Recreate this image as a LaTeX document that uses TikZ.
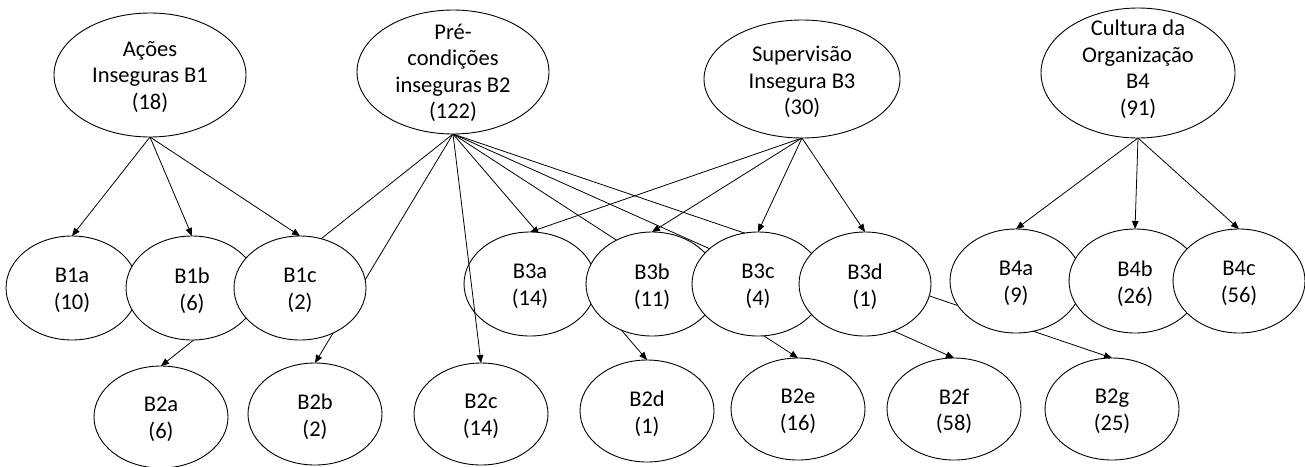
\documentclass[tikz,border=0pt]{standalone}
\usepackage{fontspec}
\setmainfont{Carlito}
\usetikzlibrary{shapes.geometric,arrows.meta}
\pgfdeclarelayer{bg}
\pgfsetlayers{bg,main}
\begin{document}
\begin{tikzpicture}[x=1pt,y=-1pt,
  ell/.style={ellipse, draw=black, fill=white, line width=0.9pt, inner sep=0pt, outer sep=0pt},
  topell/.style={ell, minimum width=192pt, minimum height=124pt},
  midell/.style={ell, minimum width=132pt, minimum height=104pt},
  botell/.style={ell, minimum width=134pt, minimum height=102pt},
  txt/.style={align=center, font=\fontsize{22.5}{26.5}\selectfont, inner sep=0pt},
  stxt/.style={txt, yshift=-2.5pt},
  arr/.style={line width=0.8pt, -{Triangle[length=8pt,width=6.5pt]}}]
\useasboundingbox (0,0) rectangle (1305,466);
% top row
\node[topell] (b1) at (150,75) {};
\node[txt] (b1t) at (150,77) {Ações\\Inseguras B1\\(18)};
\node[topell] (b2) at (453,72) {};
\node[txt] (b2t) at (453,73) {Pré-\\condições\\inseguras B2\\(122)};
\node[topell, minimum width=196pt, minimum height=118pt] (b3) at (802,79) {};
\node[txt] (b3t) at (802,82) {Supervisão\\Insegura B3\\(30)};
\node[topell, minimum width=194pt, minimum height=130pt] (b4) at (1138,73) {};
\node[txt] (b4t) at (1138,69) {Cultura da\\Organização\\B4\\(91)};
% middle row
\node[midell] (b1a) at (72,288) {};
\node[stxt] at (b1a) {B1a\\(10)};
\node[midell] (b1b) at (192,288) {};
\node[stxt] at (b1b) {B1b\\(6)};
\node[midell] (b1c) at (300,288) {};
\node[stxt] at (b1c) {B1c\\(2)};
\node[midell] (b3a) at (530,284) {};
\node[stxt] at (b3a) {B3a\\(14)};
\node[midell] (b3b) at (652,284) {};
\node[stxt] at (b3b) {B3b\\(11)};
\node[midell] (b3c) at (758,284) {};
\node[stxt] at (b3c) {B3c\\(4)};
\node[midell] (b3d) at (865,284) {};
\node[stxt] at (b3d) {B3d\\(1)};
\node[midell] (b4a) at (1016,281) {};
\node[stxt] at (b4a) {B4a\\(9)};
\node[midell] (b4b) at (1135,281) {};
\node[stxt] at (b4b) {B4b\\(26)};
\node[midell] (b4c) at (1239,281) {};
\node[stxt] at (b4c) {B4c\\(56)};
% bottom row
\node[botell] (b2a) at (161,417) {};
\node[stxt] at (b2a) {B2a\\(6)};
\node[botell] (b2b) at (315,414) {};
\node[stxt] at (b2b) {B2b\\(2)};
\node[botell] (b2c) at (481,414) {};
\node[stxt] at (b2c) {B2c\\(14)};
\node[botell] (b2d) at (647,411) {};
\node[stxt] at (b2d) {B2d\\(1)};
\node[botell] (b2e) at (798,409) {};
\node[stxt] at (b2e) {B2e\\(16)};
\node[botell] (b2f) at (954,409) {};
\node[stxt] at (b2f) {B2f\\(58)};
\node[botell] (b2g) at (1112,409) {};
\node[stxt] at (b2g) {B2g\\(25)};
% connectors
\begin{pgfonlayer}{bg}
\draw[arr] (b1.south) -- (b1a.north);
\draw[arr] (b1.south) -- (b1b.north);
\draw[arr] (b1.south) -- (b1c.north);
\draw[arr] (b2.south) -- (b2a.north);
\draw[arr] (b2.south) -- (b2b.north);
\draw[arr] (b2.south) -- (b2d.north);
\draw[arr] (b2.south) -- (b2e.north);
\draw[arr] (b2.south) -- (b2f.north);
\draw[arr] (b2.south) -- (b2g.north);
\draw[arr] (b3.south) -- (b3a.north);
\draw[arr] (b3.south) -- (b3b.north);
\draw[arr] (b3.south) -- (b3c.north);
\draw[arr] (b3.south) -- (b3d.north);
\draw[arr] (b4.south) -- (b4a.north);
\draw[arr] (b4.south) -- (b4b.north);
\draw[arr] (b4.south) -- (b4c.north);
\end{pgfonlayer}
\draw[arr] (b2.south) -- (b2c.north);
\end{tikzpicture}
\end{document}
